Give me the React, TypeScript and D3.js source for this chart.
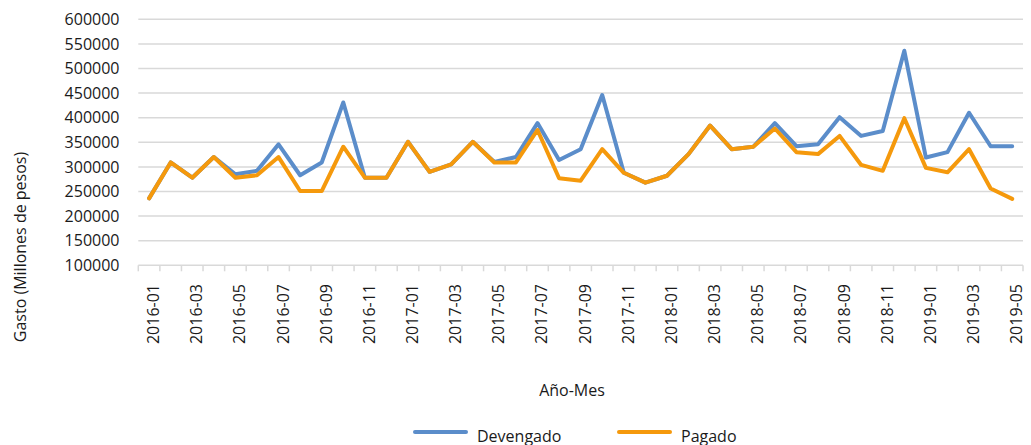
import React from "react";
import * as d3 from "d3";

const months: string[] = (() => {
  const out: string[] = [];
  for (let y = 2016; y <= 2019; y++) {
    for (let m = 1; m <= 12; m++) {
      if (y === 2019 && m > 5) break;
      out.push(`${y}-${String(m).padStart(2, "0")}`);
    }
  }
  return out;
})();

const devengado: number[] = [
  236000, 309000, 278000, 320000, 285000, 292000, 346000, 283000, 309000, 431000,
  278000, 278000, 351000, 290000, 305000, 351000, 310000, 320000, 389000, 314000,
  336000, 446000, 288000, 268000, 282000, 326000, 384000, 336000, 341000, 389000,
  342000, 346000, 401000, 363000, 373000, 536000, 319000, 330000, 410000, 342000,
  342000,
];

const pagado: number[] = [
  236000, 309000, 278000, 320000, 278000, 283000, 320000, 251000, 251000, 341000,
  278000, 278000, 351000, 290000, 305000, 351000, 309000, 309000, 375000, 277000,
  272000, 336000, 288000, 268000, 282000, 326000, 384000, 336000, 341000, 378000,
  330000, 326000, 363000, 304000, 292000, 399000, 298000, 289000, 336000, 256000,
  235000,
];

const yTicks: number[] = [100000, 150000, 200000, 250000, 300000, 350000, 400000, 450000, 500000, 550000, 600000];
const xLabelEvery = 2;

const W = 1031;
const H = 445;
const left = 138.3;
const right = 1023;
const top = 19.3;
const bottom = 265.3;

const BLUE = "#5b8dca";
const ORANGE = "#f5990c";
const FONT = "'Open Sans', sans-serif";

export default function App() {
  const x = d3.scaleBand<string>().domain(months).range([left, right]).padding(0);
  const y = d3.scaleLinear().domain([100000, 600000]).range([bottom, top]);
  const cx = (i: number) => (x(months[i]) as number) + x.bandwidth() / 2;
  const line = d3
    .line<number>()
    .x((_, i) => cx(i))
    .y((d) => y(d));

  const boundaries = months.map((m) => x(m) as number).concat([right]);

  return (
    <svg width={W} height={H} style={{ position: "absolute", left: 0, top: 0, background: "#fff" }}>
      <g>
        {yTicks.map((t) => (
          <line key={t} x1={left} x2={right} y1={y(t)} y2={y(t)} stroke="#d9d9d9" strokeWidth={1.5} />
        ))}
        {boundaries.map((b, i) => (
          <line key={i} x1={b} x2={b} y1={bottom} y2={bottom + 6} stroke="#d9d9d9" strokeWidth={1.5} />
        ))}
        {yTicks.map((t) => (
          <text
            key={t}
            x={119.5}
            y={y(t)}
            dy="0.35em"
            textAnchor="end"
            fontFamily={FONT}
            fontSize={16}
            fill="#1a1a1a"
          >
            {t}
          </text>
        ))}
        {months.map((m, i) =>
          i % xLabelEvery === 0 ? (
            <text
              key={m}
              transform={`translate(${cx(i) + 10},${284}) rotate(-90)`}
              textAnchor="end"
              fontFamily={FONT}
              fontSize={16}
              fill="#1a1a1a"
            >
              {m}
            </text>
          ) : null
        )}
        <path d={line(devengado) || ""} fill="none" stroke={BLUE} strokeWidth={4} strokeLinejoin="round" strokeLinecap="round" />
        <path d={line(pagado) || ""} fill="none" stroke={ORANGE} strokeWidth={4} strokeLinejoin="round" strokeLinecap="round" />
        <text
          transform={`translate(26,247) rotate(-90)`}
          textAnchor="middle"
          fontFamily={FONT}
          fontSize={16}
          fill="#1a1a1a"
        >
          Gasto (Millones de pesos)
        </text>
        <text x={572} y={396} textAnchor="middle" fontFamily={FONT} fontSize={16} fill="#1a1a1a">
          Año-Mes
        </text>
        <line x1={415} x2={466} y1={432} y2={432} stroke={BLUE} strokeWidth={4} strokeLinecap="round" />
        <text x={477} y={442} fontFamily={FONT} fontSize={16} fill="#1a1a1a">
          Devengado
        </text>
        <line x1={619} x2={670} y1={432} y2={432} stroke={ORANGE} strokeWidth={4} strokeLinecap="round" />
        <text x={681} y={442} fontFamily={FONT} fontSize={16} fill="#1a1a1a">
          Pagado
        </text>
      </g>
    </svg>
  );
}
